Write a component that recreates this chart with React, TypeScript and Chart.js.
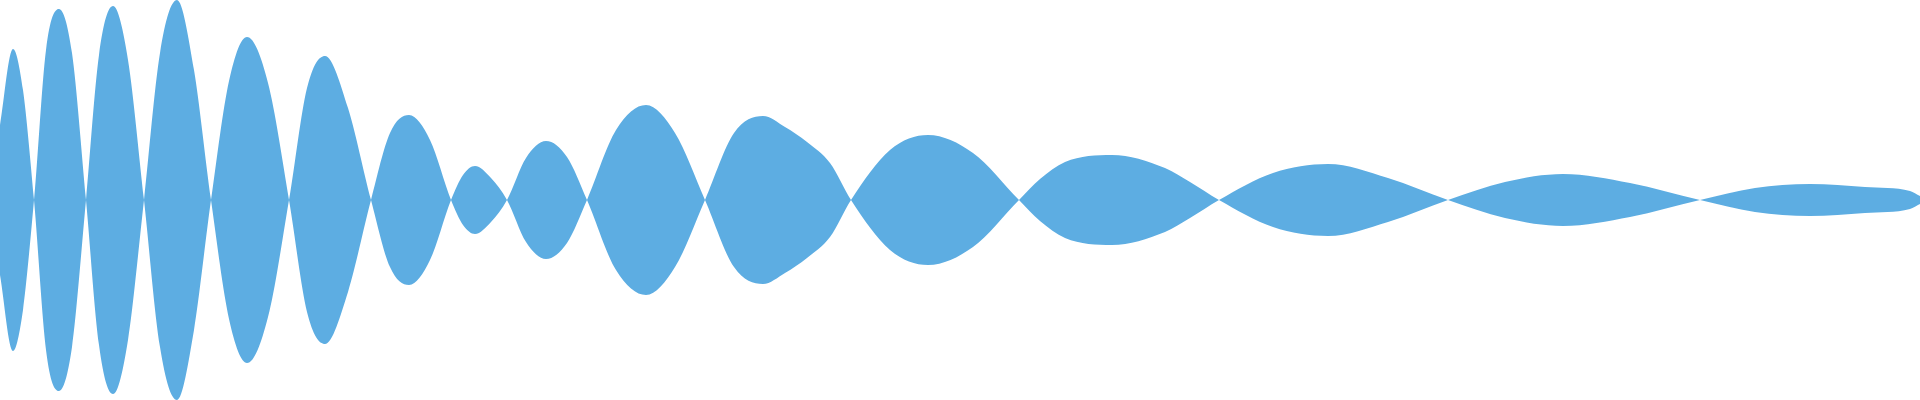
import { useEffect, useRef } from 'react';
import { Chart, registerables } from 'chart.js';

Chart.register(...registerables);

// sample positions along the clip and the signed waveform value at each one
// (zero crossings, lobe peaks and the half-way points)
const samplePos = [
  0, 13, 23, 34, 46, 59, 72, 86, 99, 113, 128, 144, 160, 177, 194, 211, 229, 247, 268, 289,
  307, 325, 348, 371, 390, 409, 430, 451, 463, 475, 491, 507, 526, 546, 567, 587, 616, 646,
  675, 705, 734, 763, 785, 807, 830, 851, 890, 928, 973, 1019, 1040, 1065, 1112, 1165, 1190,
  1219, 1273, 1328, 1388, 1448, 1505, 1563, 1630, 1700, 1755, 1810, 1865, 1910, 1920,
];
const waveValues = [
  75, 151, 110, 0, -150, -191, -147, 0, 145, 194, 140, 0, -147, -200, -130, 0, 119, 163, 117, 0,
  -112, -144, -92, 0, 67, 85, 60, 0, -25, -34, -22, 0, 42, 59, 43, 0, -70, -95,
  -67, 0, 67, 84, 73, 58, 37, 0, -50, -65, -47, 0, 21, 38, 45, 32, 18,
  0, -27, -36, -22, 0, 18, 26, 17, 0, -12, -16, -13, -9, -4,
];
const waveColor = '#5DADE2';
const peakLimit = 200;

export default function App() {
  const canvasRef = useRef<HTMLCanvasElement>(null);

  useEffect(() => {
    document.body.style.margin = '0';
    if (!canvasRef.current) return;

    const upper = samplePos.map((x, i) => ({ x, y: waveValues[i] }));
    const lower = samplePos.map((x, i) => ({ x, y: -waveValues[i] }));

    const chart = new Chart(canvasRef.current, {
      type: 'line',
      data: {
        datasets: [
          {
            data: upper,
            backgroundColor: waveColor,
            borderWidth: 0,
            pointRadius: 0,
            fill: 'origin',
            cubicInterpolationMode: 'monotone',
          },
          {
            data: lower,
            backgroundColor: waveColor,
            borderWidth: 0,
            pointRadius: 0,
            fill: 'origin',
            cubicInterpolationMode: 'monotone',
          },
        ],
      },
      options: {
        animation: false,
        responsive: true,
        maintainAspectRatio: false,
        layout: { padding: 0 },
        plugins: {
          legend: { display: false },
          tooltip: { enabled: false },
        },
        scales: {
          x: { type: 'linear', display: false, min: 0, max: 1920 },
          y: { display: false, min: -peakLimit, max: peakLimit },
        },
      },
    });

    return () => chart.destroy();
  }, []);

  return (
    <div style={{ width: 1920, height: 400, position: 'relative' }}>
      <canvas ref={canvasRef} />
    </div>
  );
}
